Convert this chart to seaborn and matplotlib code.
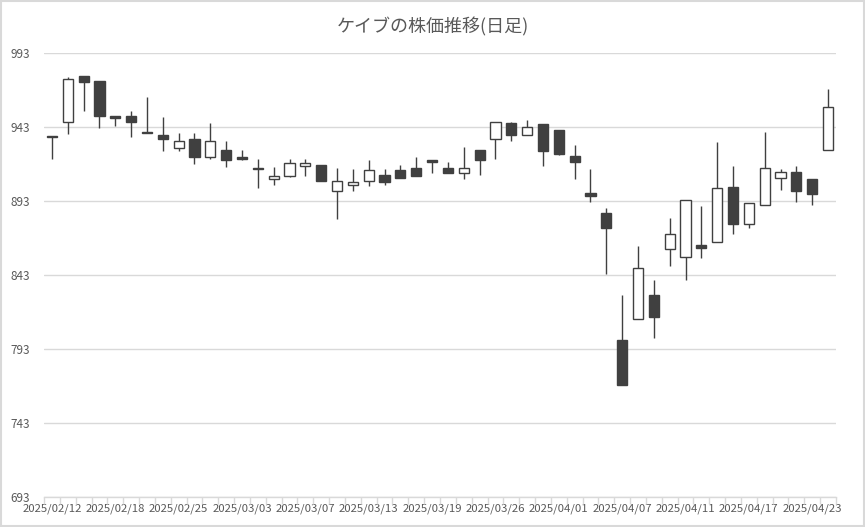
import matplotlib
matplotlib.use("Agg")
import matplotlib.pyplot as plt
import numpy as np
import pandas as pd
import seaborn as sns

dates = ["2025/02/12", "2025/02/13", "2025/02/14", "2025/02/17", "2025/02/18",
         "2025/02/19", "2025/02/20", "2025/02/21", "2025/02/25", "2025/02/26",
         "2025/02/27", "2025/02/28", "2025/03/03", "2025/03/04", "2025/03/05",
         "2025/03/06", "2025/03/07", "2025/03/10", "2025/03/11", "2025/03/12",
         "2025/03/13", "2025/03/14", "2025/03/17", "2025/03/18", "2025/03/19",
         "2025/03/21", "2025/03/24", "2025/03/25", "2025/03/26", "2025/03/27",
         "2025/03/28", "2025/03/31", "2025/04/01", "2025/04/02", "2025/04/03",
         "2025/04/04", "2025/04/07", "2025/04/08", "2025/04/09", "2025/04/10",
         "2025/04/11", "2025/04/14", "2025/04/15", "2025/04/16", "2025/04/17",
         "2025/04/18", "2025/04/21", "2025/04/22", "2025/04/23", "2025/04/24"]

open_ = [936.5, 946.2, 977.5, 973.9, 949.8, 950.2, 939.2, 937.4, 928.6, 934.7,
         922.5, 927.3, 922.5, 914.8, 907.7, 909.7, 916.9, 917.3, 899.6, 903.6,
         906.3, 910.4, 913.7, 915.1, 920.5, 915.1, 911.7, 927.3, 934.7, 945.5,
         937.4, 944.8, 940.8, 923.2, 898.2, 884.7, 798.9, 813.1, 829.5, 860.4,
         855.0, 863.1, 865.1, 902.3, 877.3, 890.1, 908.3, 912.4, 907.7, 927.3]
high = [936.5, 976.6, 977.5, 973.9, 949.8, 953.6, 963.5, 949.6, 938.7, 938.7,
        945.7, 933.3, 927.3, 921.2, 916.2, 921.4, 921.4, 917.3, 915.1, 914.4,
        920.5, 914.4, 917.3, 922.5, 920.5, 919.1, 929.3, 927.3, 946.2, 946.2,
        947.5, 944.8, 940.8, 930.6, 914.4, 888.1, 829.3, 862.4, 839.6, 881.3,
        893.5, 889.4, 932.7, 916.4, 891.4, 939.4, 914.4, 916.4, 907.7, 968.5]
low = [921.4, 938.5, 954.0, 942.5, 943.5, 936.5, 939.2, 927.0, 927.0, 918.2,
       921.2, 916.2, 920.5, 902.0, 904.0, 909.5, 910.1, 906.3, 881.0, 900.0,
       903.3, 904.0, 908.3, 909.7, 911.7, 911.7, 907.7, 910.4, 921.2, 933.3,
       937.4, 916.9, 924.3, 908.1, 892.1, 843.9, 768.9, 813.1, 800.6, 849.3,
       839.4, 854.3, 865.1, 870.5, 874.6, 890.1, 900.2, 892.1, 890.1, 927.3]
close = [936.5, 975.2, 973.6, 950.2, 949.8, 946.2, 939.2, 935.1, 933.3, 923.0,
         933.3, 920.5, 921.2, 914.8, 909.9, 918.5, 918.5, 906.3, 906.3, 905.6,
         913.7, 905.6, 908.3, 909.7, 919.1, 911.7, 915.1, 920.5, 946.2, 937.4,
         942.8, 927.0, 925.0, 919.1, 896.2, 874.6, 768.9, 847.5, 814.8, 870.5,
         893.5, 861.0, 901.6, 877.3, 891.4, 915.1, 912.4, 899.6, 897.5, 956.3]

y_ticks = [693, 743, 793, 843, 893, 943, 993]
title = "ケイブの株価推移(日足)"

sns.set_theme(style="white")
plt.rcParams["font.family"] = ["Noto Sans CJK JP", "DejaVu Sans"]

df = pd.DataFrame({"date": dates, "open": open_, "high": high,
                   "low": low, "close": close})
df["x"] = np.arange(len(df))
df["up"] = df["close"] >= df["open"]
df["bottom"] = df[["open", "close"]].min(axis=1)
df["height"] = (df["close"] - df["open"]).abs()
# a doji is drawn as a thin dark bar, as in the reference
doji = df["height"] < 1.0
df.loc[doji, "bottom"] = df.loc[doji, "bottom"] - 0.5
df.loc[doji, "height"] = 1.0

dark = "#404040"
grid = "#d9d9d9"
txt = "#595959"

fig = plt.figure(figsize=(8.65, 5.27), dpi=100)
ax = fig.add_axes([44 / 865, 1 - 497 / 527, (836 - 44) / 865, (497 - 53) / 527])

# wicks
ax.vlines(df["x"], df["low"], df["high"], color=dark, linewidth=1.0, zorder=2)
# bodies
colors = np.where(df["up"] & ~doji, "white", dark)
ax.bar(df["x"], df["height"], bottom=df["bottom"], width=0.64,
       color=colors, edgecolor=dark, linewidth=1.0, zorder=3)

ax.set_xlim(-0.5, len(df) - 0.5)
ax.set_ylim(693, 993)
ax.set_yticks(y_ticks)
ax.set_yticklabels([str(v) for v in y_ticks], fontsize=8.5, color=txt)
ax.yaxis.grid(True, color=grid, linewidth=1.0)
ax.set_axisbelow(True)

ax.set_xticks(df["x"][::4])
ax.set_xticklabels(df["date"][::4], fontsize=8.2, color=txt)
ax.set_xticks(np.arange(-0.5, len(df), 1.0), minor=True)
ax.tick_params(axis="x", which="major", length=0, pad=5)
ax.tick_params(axis="x", which="minor", length=5, color=grid, width=1.0,
               direction="out", bottom=True)
ax.tick_params(axis="y", length=0, pad=10)

for s in ["top", "right", "left"]:
    ax.spines[s].set_visible(False)
ax.spines["bottom"].set_color(grid)
ax.spines["bottom"].set_linewidth(1.0)

fig.text(433 / 865, 1 - 27 / 527, title, ha="center", va="center",
         fontsize=13, color=txt)

fig.patches.append(plt.Rectangle((0.001, 0.001), 0.998, 0.997,
                                 transform=fig.transFigure, fill=False,
                                 edgecolor=grid, linewidth=1.5))

fig.savefig("out.png", dpi=100)
